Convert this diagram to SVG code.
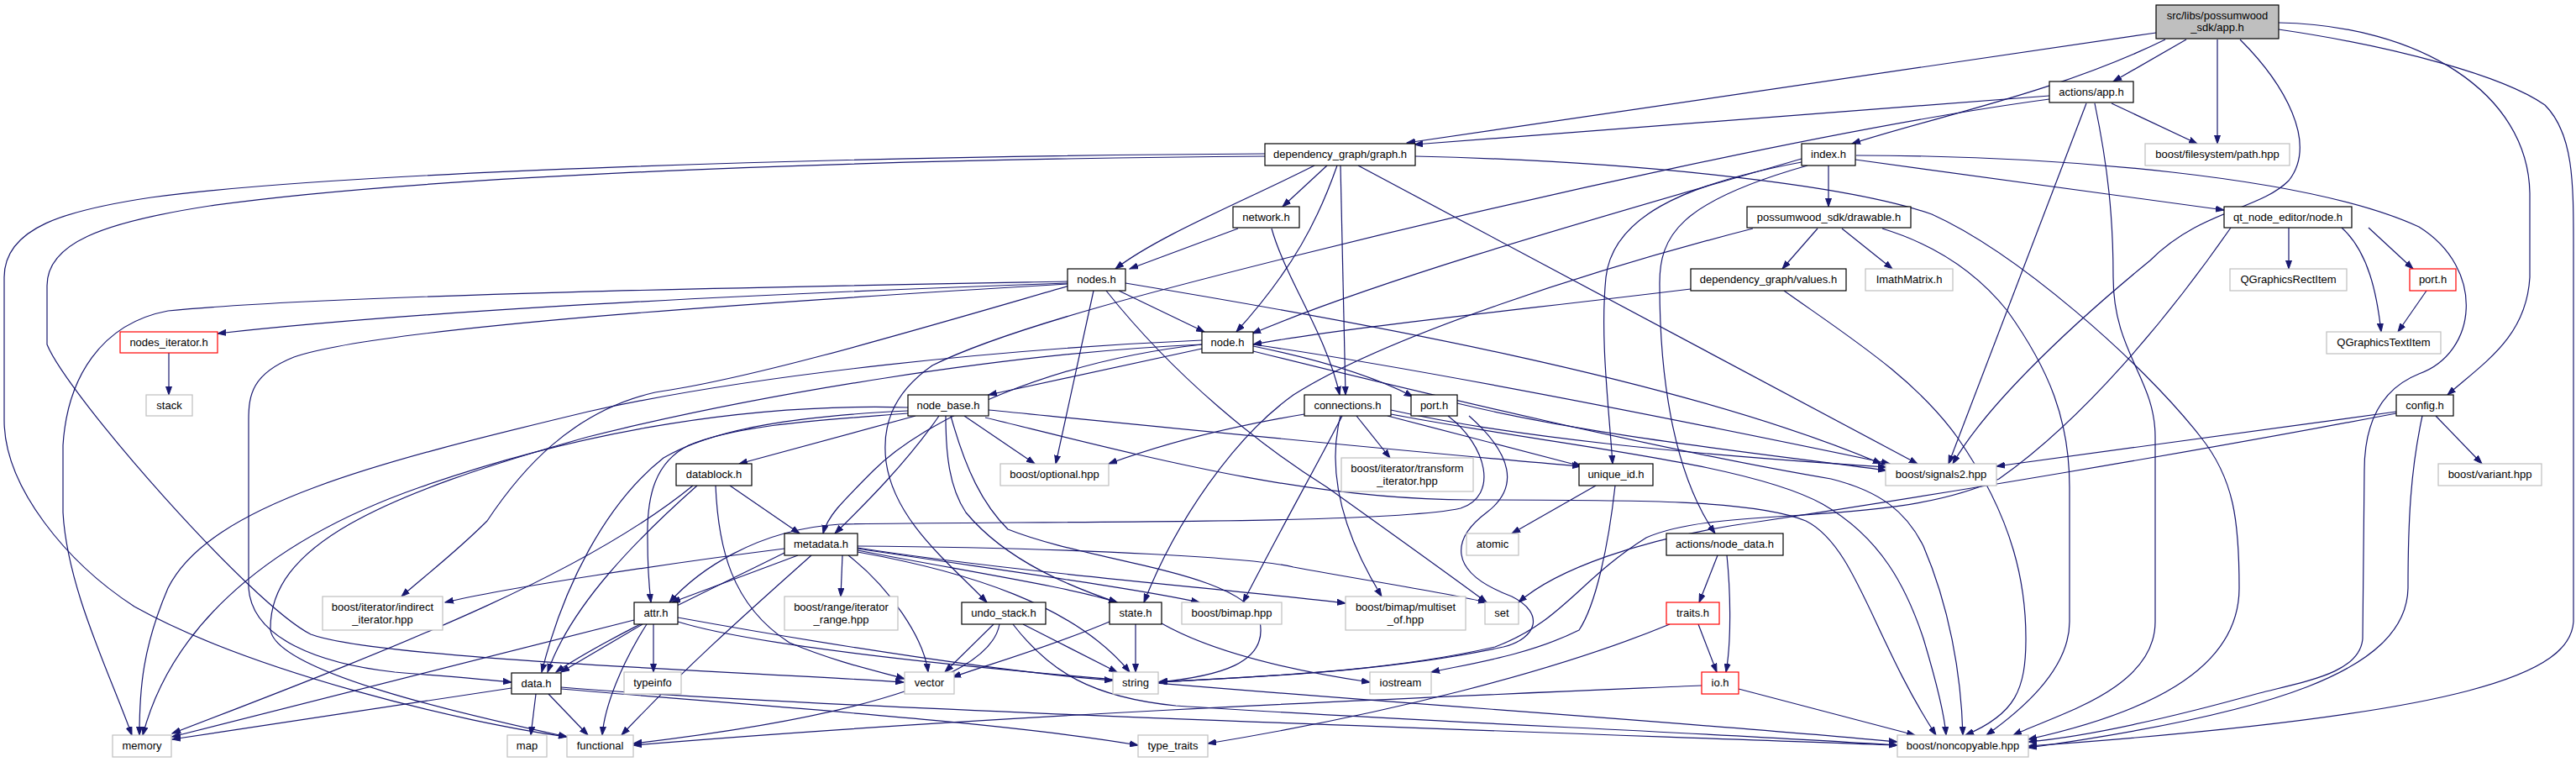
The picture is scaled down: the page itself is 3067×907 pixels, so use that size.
<svg xmlns="http://www.w3.org/2000/svg" width="3067" height="907" viewBox="0 0 3067 907">
<defs>
<marker id="a" markerWidth="11" markerHeight="8" refX="10" refY="4" orient="auto" markerUnits="userSpaceOnUse"><path d="M0,0.5 L10,4 L0,7.5 z" fill="#191970" stroke="#191970" stroke-width="1"/></marker>
<style>
.n rect{fill:#fff;stroke:#000;stroke-width:1.2}
.g rect{stroke:#bfbfbf}
.r rect{stroke:#ff0000}
text{font-family:"Liberation Sans",Arial,sans-serif;font-size:13px;text-anchor:middle;fill:#000}
#edges path{fill:none;stroke:#191970;stroke-width:1.2;marker-end:url(#a)}
</style>
</defs>
<rect width="3067" height="907" fill="#fff"/>
<g id="edges">
<path d="M2567,39 L1675,170"/>
<path d="M2603,47 L2516,97"/>
<path d="M2640,47 L2640,171"/>
<path d="M2578,47 C2450,110 2300,140 2205,171"/>
<path d="M2667,47 C2720,100 2760,170 2725,215 C2690,250 2620,250 2560,310 C2450,400 2360,490 2325,552"/>
<path d="M2713,27 C2880,30 3010,110 3012,230 L3012,330 C3008,400 2960,430 2914,470"/>
<path d="M2713,35 C2850,55 2980,90 3030,125 C3065,160 3064,220 3064,300 L3064,740 C3060,800 2950,850 2415,888"/>
<path d="M2440,114 L1684,172"/>
<path d="M2514,123 L2616,171"/>
<path d="M2440,118 C2200,150 1800,240 1540,305 C1400,340 1200,390 1110,435 C1060,470 1050,510 1055,550 C1065,620 1130,670 1175,717"/>
<path d="M2484,123 L2320,552"/>
<path d="M2494,123 C2510,200 2516,260 2516,330 C2516,420 2566,450 2566,520 L2566,740 C2566,820 2450,850 2397,875"/>
<path d="M1580,197 L1527,246"/>
<path d="M1565,197 C1480,240 1380,280 1328,320"/>
<path d="M1592,197 C1570,260 1540,320 1472,395"/>
<path d="M1596,197 L1602,470"/>
<path d="M1617,197 L2283,552"/>
<path d="M1685,186 C1950,192 2200,220 2300,255 C2400,300 2550,430 2620,520 C2660,570 2666,620 2666,700 C2666,800 2550,850 2415,880"/>
<path d="M1506,183 C1000,186 400,205 180,235 C80,250 5,270 5,330 L5,500 C5,580 80,670 160,722 C300,800 550,860 675,877"/>
<path d="M1506,186 C1000,190 500,210 250,245 C120,265 56,290 56,340 L56,410 C80,470 300,720 370,755 C450,785 900,800 1076,812"/>
<path d="M2209,190 L2648,250"/>
<path d="M2177,197 L2177,246"/>
<path d="M2145,189 C1900,260 1650,330 1491,397"/>
<path d="M2145,193 C2000,220 1920,260 1912,330 C1905,400 1915,480 1920,552"/>
<path d="M2152,197 C2000,240 1975,280 1976,340 C1976,440 1990,560 2042,635"/>
<path d="M2210,185 C2450,185 2750,210 2880,270 C2960,320 2950,420 2880,445 C2830,465 2815,510 2815,560 L2813,760 C2810,800 2750,810 2690,825 C2600,850 2500,875 2415,883"/>
<path d="M1474,272 L1345,320"/>
<path d="M1514,272 C1530,330 1580,400 1595,470"/>
<path d="M2164,272 L2122,320"/>
<path d="M2193,272 L2253,320"/>
<path d="M2087,272 C1900,320 1650,400 1540,470 C1470,520 1400,620 1362,717"/>
<path d="M2241,272 C2300,290 2350,320 2390,370 C2440,440 2464,500 2464,580 L2464,740 C2464,800 2400,850 2365,875"/>
<path d="M2124,346 C2200,400 2280,450 2330,520 C2400,620 2412,700 2412,760 C2412,820 2400,850 2340,875"/>
<path d="M2013,344 C1800,370 1600,390 1492,410"/>
<path d="M1271,335 C1000,340 400,350 200,370 C120,385 80,450 75,530 L75,610 C80,700 130,800 157,875"/>
<path d="M1271,337 C900,350 500,370 259,397"/>
<path d="M1271,338 C900,360 450,390 350,425 C300,445 296,470 296,500 L296,700 C300,760 380,790 470,800 C530,805 570,808 609,812"/>
<path d="M1277,339 C1100,390 900,450 780,467 C680,490 620,560 580,620 C540,660 500,690 478,710"/>
<path d="M1332,346 L1434,395"/>
<path d="M1302,346 L1257,552"/>
<path d="M1317,346 C1400,450 1500,530 1580,580 C1650,630 1720,680 1770,717"/>
<path d="M1340,337 C1600,380 2000,450 2240,552"/>
<path d="M1431,415 L1177,470"/>
<path d="M1492,412 C1580,430 1640,450 1682,472"/>
<path d="M1431,410 C1250,430 1100,500 1040,560 C1000,600 985,615 980,635"/>
<path d="M1492,410 C1700,440 2000,500 2250,552"/>
<path d="M1492,418 C1700,470 2000,540 2180,570 C2240,585 2270,610 2290,650 C2320,720 2335,800 2337,875"/>
<path d="M1431,405 C1200,415 900,445 700,490 C450,550 250,600 200,700 C170,770 166,820 166,875"/>
<path d="M1431,410 C1200,420 900,470 700,520 C450,590 320,650 322,750 C330,800 550,850 675,877"/>
<path d="M1090,495 L880,552"/>
<path d="M1148,495 L1232,552"/>
<path d="M1118,495 C1080,550 1030,600 994,635"/>
<path d="M1081,492 C980,500 880,505 820,530 C780,550 770,590 771,640 C771,680 773,700 775,717"/>
<path d="M1081,489 C950,495 850,510 790,545 C720,600 670,700 645,800"/>
<path d="M1081,485 C900,480 700,510 500,580 C300,650 200,760 170,875"/>
<path d="M1126,495 C1126,540 1130,580 1150,610 C1200,670 1280,700 1330,717"/>
<path d="M1132,495 C1150,560 1170,600 1200,630 C1300,670 1480,680 1500,740 C1510,790 1450,805 1379,812"/>
<path d="M1177,488 C1400,510 1700,540 1882,555"/>
<path d="M1173,497 C1350,540 1550,595 1750,595 C1950,595 2090,595 2150,620 C2210,650 2230,760 2305,875"/>
<path d="M869,578 L952,635"/>
<path d="M830,578 C760,640 680,720 652,800"/>
<path d="M825,578 C700,680 500,760 205,873"/>
<path d="M852,578 C855,650 870,720 940,765 C1000,790 1050,800 1077,808"/>
<path d="M1553,493 C1450,510 1380,530 1320,552"/>
<path d="M1615,495 L1655,545"/>
<path d="M1652,495 L1883,555"/>
<path d="M1598,495 C1570,550 1530,620 1480,717"/>
<path d="M1596,495 C1582,550 1590,620 1645,710"/>
<path d="M1656,488 C1800,520 2000,540 2246,556"/>
<path d="M1656,493 C1850,530 2080,550 2170,600 C2240,640 2270,700 2290,760 C2305,810 2315,850 2317,875"/>
<path d="M1724,495 C1770,530 1785,590 1739,605 C1650,625 1200,620 1000,624 C900,630 830,680 797,717"/>
<path d="M1749,495 C1800,540 1810,580 1770,610 C1730,640 1720,680 1800,710 C1840,730 1830,760 1790,770 C1650,800 1500,805 1380,812"/>
<path d="M1735,480 C1900,520 2100,540 2246,560"/>
<path d="M934,653 C800,670 600,700 530,717"/>
<path d="M1003,661 L1001,710"/>
<path d="M1010,661 C1060,700 1100,760 1105,800"/>
<path d="M950,661 L800,717"/>
<path d="M934,658 C850,700 720,760 662,800"/>
<path d="M966,661 C900,720 820,790 740,875"/>
<path d="M1021,650 C1300,652 1500,665 1540,675 C1620,690 1720,705 1770,717"/>
<path d="M1021,653 C1200,680 1350,700 1428,717"/>
<path d="M1021,655 C1150,680 1280,700 1330,717"/>
<path d="M1021,657 C1150,680 1280,720 1345,800"/>
<path d="M1021,652 C1200,680 1450,700 1602,718"/>
<path d="M765,743 L668,800"/>
<path d="M778,743 L778,800"/>
<path d="M755,738 L205,877"/>
<path d="M770,743 C740,790 720,840 717,875"/>
<path d="M807,735 C1000,770 1200,800 1325,810"/>
<path d="M807,740 C1000,800 1800,840 2259,883"/>
<path d="M609,819 L205,880"/>
<path d="M638,826 L632,875"/>
<path d="M653,826 L700,875"/>
<path d="M668,820 C900,840 1200,860 1355,887"/>
<path d="M668,818 C1000,845 1800,870 2259,887"/>
<path d="M1321,740 C1250,770 1180,790 1134,806"/>
<path d="M1352,743 L1352,800"/>
<path d="M1383,742 C1450,780 1550,800 1631,812"/>
<path d="M1183,743 L1125,800"/>
<path d="M1218,743 L1330,800"/>
<path d="M1190,743 C1180,800 1050,850 754,885"/>
<path d="M1206,743 C1250,800 1300,830 1400,840 C1700,860 2000,870 2259,887"/>
<path d="M1900,578 L1800,635"/>
<path d="M1923,578 C1915,650 1900,720 1880,750 C1820,780 1750,790 1704,800"/>
<path d="M2853,490 L2377,555"/>
<path d="M2900,495 L2955,552"/>
<path d="M2884,495 C2870,560 2867,620 2867,700 C2865,800 2700,850 2415,890"/>
<path d="M2853,492 C2600,540 2300,590 2100,620 C1950,640 1850,680 1808,717"/>
<path d="M2725,271 L2725,320"/>
<path d="M2788,271 C2820,300 2830,350 2835,395"/>
<path d="M2820,271 L2873,320"/>
<path d="M2656,271 C2580,380 2480,500 2380,570 C2250,630 2050,600 1960,640 C1880,690 1860,740 1780,770 C1650,800 1500,805 1380,812"/>
<path d="M2889,346 L2855,395"/>
<path d="M201,420 L201,470"/>
<path d="M2045,661 L2023,717"/>
<path d="M2056,661 C2060,700 2062,760 2055,800"/>
<path d="M2022,743 L2044,800"/>
<path d="M1988,743 C1850,800 1650,850 1438,885"/>
<path d="M2026,816 C1700,830 1200,850 754,887"/>
<path d="M2070,820 L2280,875"/>
</g>
<g id="node_app" class="n"><rect x="2567" y="6" width="146" height="40" style="fill:#bfbfbf"/><text x="2640" y="23">src/libs/possumwood</text><text x="2640" y="37">_sdk/app.h</text></g>
<g id="node_actions_app" class="n"><rect x="2440" y="97" width="100" height="25"/><text x="2490" y="114">actions/app.h</text></g>
<g id="node_path" class="n g"><rect x="2554" y="171" width="172" height="26"/><text x="2640" y="188">boost/filesystem/path.hpp</text></g>
<g id="node_graph" class="n"><rect x="1506" y="171" width="179" height="26"/><text x="1595.5" y="188">dependency_graph/graph.h</text></g>
<g id="node_index" class="n"><rect x="2145" y="171" width="64" height="26"/><text x="2177" y="188">index.h</text></g>
<g id="node_qt_node" class="n"><rect x="2648" y="246" width="152" height="25"/><text x="2724" y="263">qt_node_editor/node.h</text></g>
<g id="node_drawable" class="n"><rect x="2080" y="246" width="195" height="25"/><text x="2177.5" y="263">possumwood_sdk/drawable.h</text></g>
<g id="node_network" class="n"><rect x="1468" y="246" width="79" height="25"/><text x="1507.5" y="263">network.h</text></g>
<g id="node_nodes" class="n"><rect x="1271" y="320" width="69" height="26"/><text x="1305.5" y="337">nodes.h</text></g>
<g id="node_values" class="n"><rect x="2013" y="320" width="185" height="26"/><text x="2105.5" y="337">dependency_graph/values.h</text></g>
<g id="node_imath" class="n g"><rect x="2221" y="320" width="104" height="26"/><text x="2273" y="337">ImathMatrix.h</text></g>
<g id="node_qrect" class="n g"><rect x="2655" y="320" width="139" height="26"/><text x="2724.5" y="337">QGraphicsRectItem</text></g>
<g id="node_qtport" class="n r"><rect x="2869" y="320" width="55" height="26"/><text x="2896.5" y="337">port.h</text></g>
<g id="node_nodes_iterator" class="n r"><rect x="143" y="395" width="116" height="25"/><text x="201" y="412">nodes_iterator.h</text></g>
<g id="node_node" class="n"><rect x="1431" y="395" width="61" height="25"/><text x="1461.5" y="412">node.h</text></g>
<g id="node_qtext" class="n g"><rect x="2770" y="395" width="136" height="26"/><text x="2838" y="412">QGraphicsTextItem</text></g>
<g id="node_stack" class="n g"><rect x="174" y="470" width="55" height="25"/><text x="201.5" y="487">stack</text></g>
<g id="node_node_base" class="n"><rect x="1081" y="470" width="96" height="25"/><text x="1129" y="487">node_base.h</text></g>
<g id="node_connections" class="n"><rect x="1553" y="470" width="103" height="25"/><text x="1604.5" y="487">connections.h</text></g>
<g id="node_port" class="n"><rect x="1680" y="470" width="55" height="25"/><text x="1707.5" y="487">port.h</text></g>
<g id="node_config" class="n"><rect x="2853" y="470" width="68" height="25"/><text x="2887" y="487">config.h</text></g>
<g id="node_datablock" class="n"><rect x="805" y="552" width="90" height="26"/><text x="850" y="569">datablock.h</text></g>
<g id="node_optional" class="n g"><rect x="1191" y="552" width="129" height="26"/><text x="1255.5" y="569">boost/optional.hpp</text></g>
<g id="node_transform" class="n g"><rect x="1597" y="545" width="157" height="40"/><text x="1675.5" y="562">boost/iterator/transform</text><text x="1675.5" y="577">_iterator.hpp</text></g>
<g id="node_unique_id" class="n"><rect x="1880" y="552" width="88" height="26"/><text x="1924" y="569">unique_id.h</text></g>
<g id="node_signals2" class="n g"><rect x="2245" y="552" width="132" height="26"/><text x="2311" y="569">boost/signals2.hpp</text></g>
<g id="node_variant" class="n g"><rect x="2903" y="552" width="123" height="26"/><text x="2964.5" y="569">boost/variant.hpp</text></g>
<g id="node_metadata" class="n"><rect x="934" y="635" width="87" height="26"/><text x="977.5" y="652">metadata.h</text></g>
<g id="node_atomic" class="n g"><rect x="1746" y="635" width="62" height="26"/><text x="1777" y="652">atomic</text></g>
<g id="node_node_data" class="n"><rect x="1984" y="635" width="139" height="26"/><text x="2053.5" y="652">actions/node_data.h</text></g>
<g id="node_indirect" class="n g"><rect x="384" y="710" width="143" height="40"/><text x="455.5" y="727">boost/iterator/indirect</text><text x="455.5" y="742">_iterator.hpp</text></g>
<g id="node_range" class="n g"><rect x="934" y="710" width="135" height="40"/><text x="1001.5" y="727">boost/range/iterator</text><text x="1001.5" y="742">_range.hpp</text></g>
<g id="node_attr" class="n"><rect x="755" y="717" width="52" height="26"/><text x="781" y="734">attr.h</text></g>
<g id="node_undo_stack" class="n"><rect x="1145" y="717" width="100" height="26"/><text x="1195" y="734">undo_stack.h</text></g>
<g id="node_state" class="n"><rect x="1321" y="717" width="62" height="26"/><text x="1352" y="734">state.h</text></g>
<g id="node_bimap" class="n g"><rect x="1407" y="717" width="119" height="26"/><text x="1466.5" y="734">boost/bimap.hpp</text></g>
<g id="node_multiset" class="n g"><rect x="1602" y="710" width="143" height="40"/><text x="1673.5" y="727">boost/bimap/multiset</text><text x="1673.5" y="742">_of.hpp</text></g>
<g id="node_set" class="n g"><rect x="1768" y="717" width="40" height="26"/><text x="1788" y="734">set</text></g>
<g id="node_traits" class="n r"><rect x="1984" y="717" width="63" height="26"/><text x="2015.5" y="734">traits.h</text></g>
<g id="node_data" class="n"><rect x="609" y="801" width="59" height="25"/><text x="638.5" y="818">data.h</text></g>
<g id="node_typeinfo" class="n g"><rect x="743" y="800" width="68" height="26"/><text x="777" y="817">typeinfo</text></g>
<g id="node_vector" class="n g"><rect x="1077" y="800" width="59" height="26"/><text x="1106.5" y="817">vector</text></g>
<g id="node_string" class="n g"><rect x="1325" y="800" width="54" height="26"/><text x="1352" y="817">string</text></g>
<g id="node_iostream" class="n g"><rect x="1631" y="800" width="73" height="26"/><text x="1667.5" y="817">iostream</text></g>
<g id="node_io" class="n r"><rect x="2026" y="800" width="44" height="26"/><text x="2048" y="817">io.h</text></g>
<g id="node_memory" class="n g"><rect x="134" y="875" width="70" height="26"/><text x="169" y="892">memory</text></g>
<g id="node_map" class="n g"><rect x="604" y="875" width="47" height="26"/><text x="627.5" y="892">map</text></g>
<g id="node_functional" class="n g"><rect x="675" y="875" width="79" height="26"/><text x="714.5" y="892">functional</text></g>
<g id="node_type_traits" class="n g"><rect x="1355" y="875" width="83" height="26"/><text x="1396.5" y="892">type_traits</text></g>
<g id="node_noncopyable" class="n g"><rect x="2259" y="875" width="156" height="26"/><text x="2337" y="892">boost/noncopyable.hpp</text></g>
</svg>
